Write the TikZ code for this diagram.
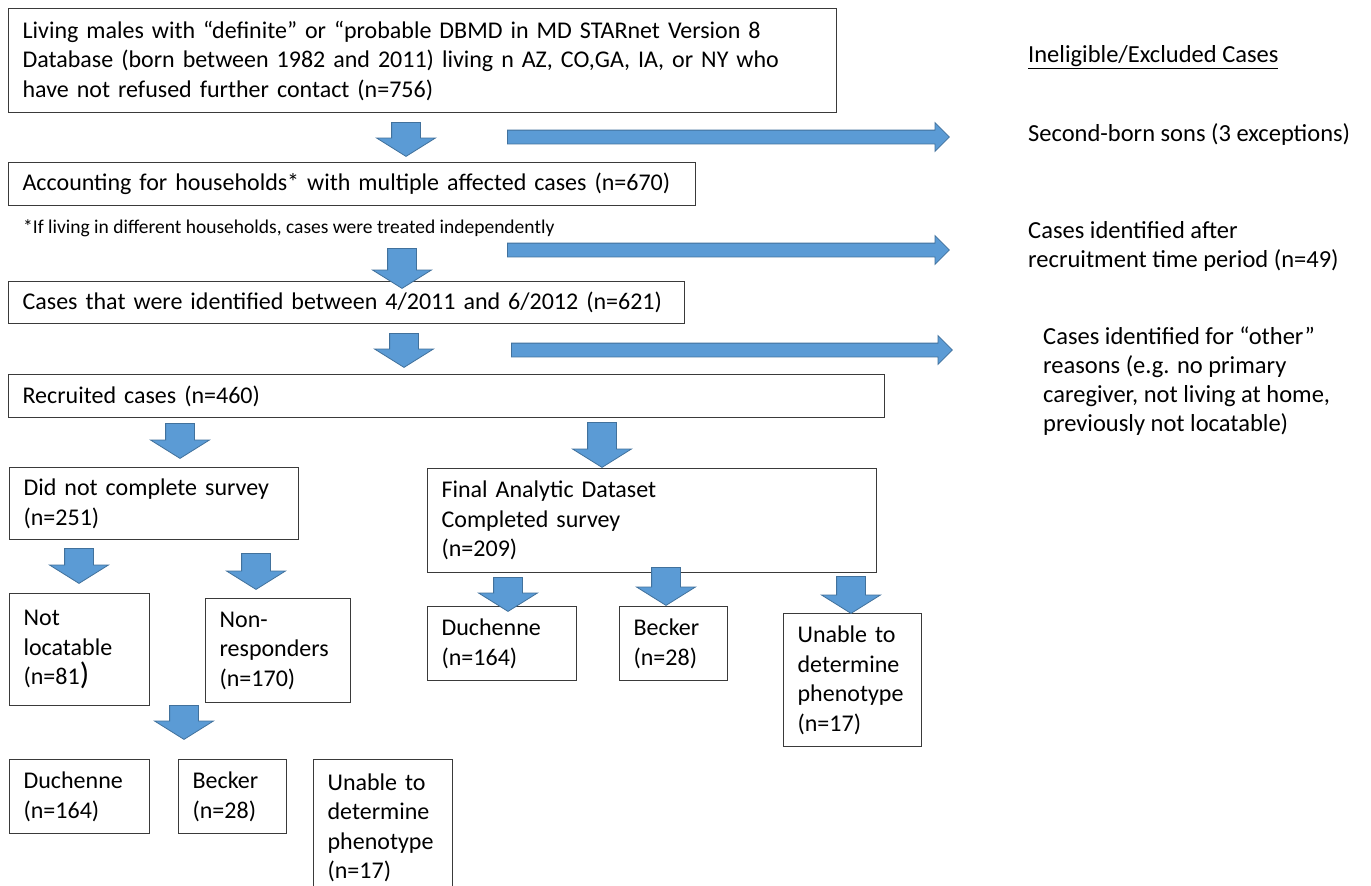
\documentclass[tikz,border=0pt]{standalone}
\usepackage{fontspec}
\setmainfont{Carlito}
\usepackage{xcolor}
\usepackage{tikz}
\usetikzlibrary{shapes.arrows}

\definecolor{blockfill}{HTML}{5B9BD5}
\definecolor{blockedge}{HTML}{41719C}
\definecolor{boxline}{HTML}{3A3A3A}

\tikzset{
	box/.style={draw=boxline, line width=1.2pt, rectangle, anchor=north west,
		inner xsep=14pt, inner ysep=0pt, align=left},
	downblock/.style={single arrow, fill=blockfill, draw=blockedge, line width=0.8pt,
		inner xsep=0pt, inner ysep=14pt, single arrow head extend=15pt,
		single arrow tip angle=116, rotate=-90, anchor=tail},
	rightblock/.style={single arrow, fill=blockfill, draw=blockedge, line width=0.8pt,
		inner xsep=0pt, inner ysep=6.5pt, single arrow head extend=7.5pt,
		single arrow tip angle=90, anchor=tail},
	sidetext/.style={anchor=west, inner sep=0pt, align=left, font=\fontsize{24.5}{29}\selectfont}
}

\begin{document}
\begin{tikzpicture}[x=1pt, y=-1pt, font=\fontsize{24}{29.5}\selectfont]
				\clip (0,0) rectangle (1371,886);
				\fill[white] (0,0) rectangle (1371,886);
				
				% main column
				\node[box, minimum width=828, minimum height=104, text width=800] (living) at (8,8)
					{Living males with “definite” or “probable DBMD in MD STARnet Version 8\\
					Database (born between 1982 and 2011) living n AZ, CO,GA, IA, or NY who\\
					have not refused further contact (n=756)};
				\node[box, minimum width=687, minimum height=43, text width=659] (house) at (8,162)
					{\mbox{Accounting for households* with multiple affected cases (n=670)}};
				\node[anchor=west, inner sep=0pt, font=\fontsize{19.5}{23}\selectfont] (note) at (23,228)
					{*If living in different households, cases were treated independently};
				\node[box, minimum width=676, minimum height=42, text width=648] (period) at (8,281)
					{\mbox{Cases that were identified between 4/2011 and 6/2012 (n=621)}};
				\node[box, minimum width=876, minimum height=43, text width=848] (recruit) at (8,374)
					{Recruited cases (n=460)};
				
				% did not complete branch
				\node[box, minimum width=289, minimum height=72, text width=261] (notdone) at (9,467)
					{Did not complete survey\\(n=251)};
				\node[box, minimum width=140, minimum height=112, text width=112] (notloc) at (9,593)
					{Not\\locatable\\(n=81{\fontsize{31}{29.5}\selectfont)}};
				\node[box, minimum width=145, minimum height=104, text width=117] (nonresp) at (205,598)
					{Non-\\responders\\(n=170)};
				\node[box, minimum width=140, minimum height=74, text width=112] (duchA) at (9,759)
					{Duchenne\\(n=164)};
				\node[box, minimum width=108, minimum height=74, text width=80] (beckA) at (178,759)
					{Becker\\(n=28)};
				\node[box, minimum width=139, minimum height=136, text width=111] (unabA) at (313,759)
					{Unable to\\determine\\phenotype\\(n=17)};
				
				% completed branch
				\node[box, minimum width=449, minimum height=104, text width=421] (final) at (427,468)
					{Final Analytic Dataset\\Completed survey\\(n=209)};
				\node[box, minimum width=149, minimum height=74, text width=121] (duchB) at (427,606)
					{Duchenne\\(n=164)};
				\node[box, minimum width=108, minimum height=74, text width=80] (beckB) at (619,606)
					{Becker\\(n=28)};
				\node[box, minimum width=138, minimum height=133, text width=110] (unabB) at (783,613)
					{Unable to\\determine\\phenotype\\(n=17)};
				
				% excluded cases
				\node[sidetext] (exclhead) at (1028,57) {\underline{Ineligible/Excluded Cases}};
				\node[sidetext] (exclsons) at (1028,135) {Second-born sons (3 exceptions)};
				\node[sidetext] (excllate) at (1028,246) {Cases identified after\\recruitment time period (n=49)};
				\node[sidetext] (exclother) at (1043,381)
					{Cases identified for “other”\\reasons (e.g. no primary\\caregiver, not living at home,\\previously not locatable)};
				
				% block arrows
				\node[downblock, minimum height=34] (d1) at (406,122) {};
				\node[downblock, minimum height=40] (d2) at (402,248) {};
				\node[downblock, minimum height=34] (d3) at (404,333) {};
				\node[downblock, minimum height=35] (d4a) at (180,423) {};
				\node[downblock, minimum height=45] (d4b) at (602,422) {};
				\node[downblock, minimum height=35] (d5a) at (79,548) {};
				\node[downblock, minimum height=36] (d5b) at (256,553) {};
				\node[downblock, minimum height=34] (d6) at (184,705) {};
				\node[downblock, minimum height=34] (d7a) at (508,577) {};
				\node[downblock, minimum height=38] (d7b) at (666,567) {};
				\node[downblock, minimum height=37] (d7c) at (851,576) {};
				
				\node[rightblock, minimum height=442] (h1) at (507,137) {};
				\node[rightblock, minimum height=442] (h2) at (507,250) {};
				\node[rightblock, minimum height=441] (h3) at (511,350) {};
\end{tikzpicture}
\end{document}
